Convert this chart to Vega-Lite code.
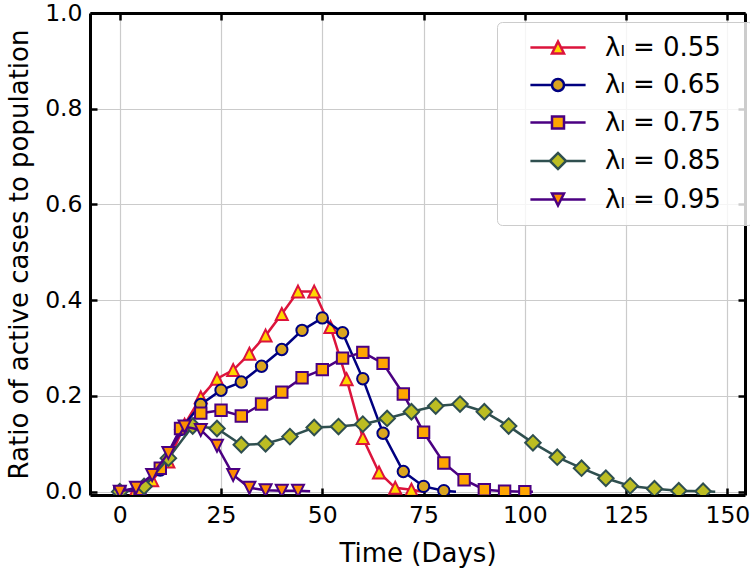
{
  "$schema": "https://vega.github.io/schema/vega-lite/v6.json",
  "width": 655,
  "height": 482,
  "autosize": {"type": "none"},
  "padding": {"left": 90, "top": 13, "right": 5, "bottom": 77},
  "background": "white",
  "config": {
    "view": {"stroke": null},
    "font": "DejaVu Sans",
    "axis": {
      "domainColor": "black",
      "domainWidth": 3,
      "tickColor": "black",
      "tickWidth": 2.5,
      "tickSize": -7,
      "labelFontSize": 23.5,
      "labelColor": "black",
      "labelPadding": 15,
      "titleFontSize": 26,
      "titleFontWeight": "normal",
      "titleColor": "black",
      "gridColor": "#cbcbcb",
      "gridWidth": 1.2
    },
    "legend": {
      "symbolOpacity": 1,
      "symbolStrokeWidth": 2.5,
      "symbolSize": 144,
      "labelFontSize": 26,
      "labelColor": "black",
      "labelFont": "DejaVu Sans"
    }
  },
  "data": {
    "values": [
      {"s": "0.55", "t": 0, "v": 0.0, "k": "marker"},
      {"s": "0.55", "t": 4, "v": 0.004, "k": "marker"},
      {"s": "0.55", "t": 8, "v": 0.024, "k": "marker"},
      {"s": "0.55", "t": 12, "v": 0.063, "k": "marker"},
      {"s": "0.55", "t": 16, "v": 0.14, "k": "marker"},
      {"s": "0.55", "t": 20, "v": 0.197, "k": "marker"},
      {"s": "0.55", "t": 24, "v": 0.236, "k": "marker"},
      {"s": "0.55", "t": 28, "v": 0.254, "k": "marker"},
      {"s": "0.55", "t": 32, "v": 0.288, "k": "marker"},
      {"s": "0.55", "t": 36, "v": 0.326, "k": "marker"},
      {"s": "0.55", "t": 40, "v": 0.371, "k": "marker"},
      {"s": "0.55", "t": 44, "v": 0.418, "k": "marker"},
      {"s": "0.55", "t": 48, "v": 0.418, "k": "marker"},
      {"s": "0.55", "t": 52, "v": 0.344, "k": "marker"},
      {"s": "0.55", "t": 56, "v": 0.235, "k": "marker"},
      {"s": "0.55", "t": 60, "v": 0.112, "k": "marker"},
      {"s": "0.55", "t": 64, "v": 0.04, "k": "marker"},
      {"s": "0.55", "t": 68, "v": 0.008, "k": "marker"},
      {"s": "0.55", "t": 72, "v": 0.004, "k": "marker"},
      {"s": "0.55", "t": 75, "v": 0.0, "k": "line"},
      {"s": "0.65", "t": 0, "v": 0.0, "k": "marker"},
      {"s": "0.65", "t": 5, "v": 0.005, "k": "marker"},
      {"s": "0.65", "t": 10, "v": 0.045, "k": "marker"},
      {"s": "0.65", "t": 15, "v": 0.13, "k": "marker"},
      {"s": "0.65", "t": 20, "v": 0.182, "k": "marker"},
      {"s": "0.65", "t": 25, "v": 0.212, "k": "marker"},
      {"s": "0.65", "t": 30, "v": 0.229, "k": "marker"},
      {"s": "0.65", "t": 35, "v": 0.262, "k": "marker"},
      {"s": "0.65", "t": 40, "v": 0.297, "k": "marker"},
      {"s": "0.65", "t": 45, "v": 0.337, "k": "marker"},
      {"s": "0.65", "t": 50, "v": 0.363, "k": "marker"},
      {"s": "0.65", "t": 55, "v": 0.332, "k": "marker"},
      {"s": "0.65", "t": 60, "v": 0.236, "k": "marker"},
      {"s": "0.65", "t": 65, "v": 0.122, "k": "marker"},
      {"s": "0.65", "t": 70, "v": 0.042, "k": "marker"},
      {"s": "0.65", "t": 75, "v": 0.011, "k": "marker"},
      {"s": "0.65", "t": 80, "v": 0.002, "k": "marker"},
      {"s": "0.65", "t": 83, "v": 0.0, "k": "line"},
      {"s": "0.75", "t": 0, "v": 0.0, "k": "marker"},
      {"s": "0.75", "t": 5, "v": 0.005, "k": "marker"},
      {"s": "0.75", "t": 10, "v": 0.049, "k": "marker"},
      {"s": "0.75", "t": 15, "v": 0.132, "k": "marker"},
      {"s": "0.75", "t": 20, "v": 0.164, "k": "marker"},
      {"s": "0.75", "t": 25, "v": 0.17, "k": "marker"},
      {"s": "0.75", "t": 30, "v": 0.158, "k": "marker"},
      {"s": "0.75", "t": 35, "v": 0.183, "k": "marker"},
      {"s": "0.75", "t": 40, "v": 0.208, "k": "marker"},
      {"s": "0.75", "t": 45, "v": 0.238, "k": "marker"},
      {"s": "0.75", "t": 50, "v": 0.255, "k": "marker"},
      {"s": "0.75", "t": 55, "v": 0.279, "k": "marker"},
      {"s": "0.75", "t": 60, "v": 0.291, "k": "marker"},
      {"s": "0.75", "t": 65, "v": 0.268, "k": "marker"},
      {"s": "0.75", "t": 70, "v": 0.204, "k": "marker"},
      {"s": "0.75", "t": 75, "v": 0.124, "k": "marker"},
      {"s": "0.75", "t": 80, "v": 0.06, "k": "marker"},
      {"s": "0.75", "t": 85, "v": 0.025, "k": "marker"},
      {"s": "0.75", "t": 90, "v": 0.004, "k": "marker"},
      {"s": "0.75", "t": 95, "v": 0.001, "k": "marker"},
      {"s": "0.75", "t": 100, "v": 0.0, "k": "marker"},
      {"s": "0.75", "t": 102, "v": 0.0, "k": "line"},
      {"s": "0.85", "t": 0, "v": 0.0, "k": "marker"},
      {"s": "0.85", "t": 6, "v": 0.011, "k": "marker"},
      {"s": "0.85", "t": 12, "v": 0.07, "k": "marker"},
      {"s": "0.85", "t": 18, "v": 0.137, "k": "marker"},
      {"s": "0.85", "t": 24, "v": 0.132, "k": "marker"},
      {"s": "0.85", "t": 30, "v": 0.098, "k": "marker"},
      {"s": "0.85", "t": 36, "v": 0.1, "k": "marker"},
      {"s": "0.85", "t": 42, "v": 0.115, "k": "marker"},
      {"s": "0.85", "t": 48, "v": 0.134, "k": "marker"},
      {"s": "0.85", "t": 54, "v": 0.136, "k": "marker"},
      {"s": "0.85", "t": 60, "v": 0.141, "k": "marker"},
      {"s": "0.85", "t": 66, "v": 0.153, "k": "marker"},
      {"s": "0.85", "t": 72, "v": 0.167, "k": "marker"},
      {"s": "0.85", "t": 78, "v": 0.179, "k": "marker"},
      {"s": "0.85", "t": 84, "v": 0.183, "k": "marker"},
      {"s": "0.85", "t": 90, "v": 0.167, "k": "marker"},
      {"s": "0.85", "t": 96, "v": 0.137, "k": "marker"},
      {"s": "0.85", "t": 102, "v": 0.102, "k": "marker"},
      {"s": "0.85", "t": 108, "v": 0.072, "k": "marker"},
      {"s": "0.85", "t": 114, "v": 0.049, "k": "marker"},
      {"s": "0.85", "t": 120, "v": 0.028, "k": "marker"},
      {"s": "0.85", "t": 126, "v": 0.012, "k": "marker"},
      {"s": "0.85", "t": 132, "v": 0.006, "k": "marker"},
      {"s": "0.85", "t": 138, "v": 0.002, "k": "marker"},
      {"s": "0.85", "t": 144, "v": 0.001, "k": "marker"},
      {"s": "0.85", "t": 147, "v": 0.0, "k": "line"},
      {"s": "0.95", "t": 0, "v": 0.0, "k": "marker"},
      {"s": "0.95", "t": 4, "v": 0.008, "k": "marker"},
      {"s": "0.95", "t": 8, "v": 0.035, "k": "marker"},
      {"s": "0.95", "t": 12, "v": 0.081, "k": "marker"},
      {"s": "0.95", "t": 16, "v": 0.136, "k": "marker"},
      {"s": "0.95", "t": 20, "v": 0.129, "k": "marker"},
      {"s": "0.95", "t": 24, "v": 0.096, "k": "marker"},
      {"s": "0.95", "t": 28, "v": 0.035, "k": "marker"},
      {"s": "0.95", "t": 32, "v": 0.008, "k": "marker"},
      {"s": "0.95", "t": 36, "v": 0.003, "k": "marker"},
      {"s": "0.95", "t": 40, "v": 0.002, "k": "marker"},
      {"s": "0.95", "t": 44, "v": 0.002, "k": "marker"},
      {"s": "0.95", "t": 47, "v": 0.001, "k": "line"}
    ]
  },
  "encoding": {
    "x": {
      "field": "t",
      "type": "quantitative",
      "scale": {"domain": [-7.35, 154.35], "nice": false, "zero": false},
      "axis": {"values": [0, 25, 50, 75, 100, 125, 150], "title": "Time (Days)", "grid": true, "titlePadding": 14}
    },
    "y": {
      "field": "v",
      "type": "quantitative",
      "scale": {"domain": [-0.007, 1.0], "nice": false, "zero": false},
      "axis": {"values": [0, 0.2, 0.4, 0.6, 0.8, 1.0], "format": ".1f", "title": "Ratio of active cases to population", "grid": true, "titlePadding": 12}
    }
  },
  "layer": [
    {
      "layer": [
        {"transform": [{"filter": "datum.s === '0.55'"}], "mark": {"type": "line", "color": "#DC143C", "strokeWidth": 2.5, "clip": true}},
        {"transform": [{"filter": "datum.s === '0.55' && datum.k === 'marker'"}], "mark": {"type": "point", "shape": "M0,-1L1,1L-1,1Z", "filled": true, "fill": "#FFD700", "stroke": "#DC143C", "strokeWidth": 2, "size": 144, "opacity": 1, "clip": true}},
        {"transform": [{"filter": "datum.s === '0.65'"}], "mark": {"type": "line", "color": "#000080", "strokeWidth": 2.5, "clip": true}},
        {"transform": [{"filter": "datum.s === '0.65' && datum.k === 'marker'"}], "mark": {"type": "point", "shape": "circle", "filled": true, "fill": "#DAA520", "stroke": "#000080", "strokeWidth": 2, "size": 130, "opacity": 1, "clip": true}},
        {"transform": [{"filter": "datum.s === '0.75'"}], "mark": {"type": "line", "color": "#4B0082", "strokeWidth": 2.5, "clip": true}},
        {"transform": [{"filter": "datum.s === '0.75' && datum.k === 'marker'"}], "mark": {"type": "point", "shape": "square", "filled": true, "fill": "#FFA500", "stroke": "#4B0082", "strokeWidth": 2, "size": 130, "opacity": 1, "clip": true}},
        {"transform": [{"filter": "datum.s === '0.85'"}], "mark": {"type": "line", "color": "#2F4F4F", "strokeWidth": 2.5, "clip": true}},
        {"transform": [{"filter": "datum.s === '0.85' && datum.k === 'marker'"}], "mark": {"type": "point", "shape": "diamond", "filled": true, "fill": "#BCBD22", "stroke": "#2F4F4F", "strokeWidth": 2, "size": 240, "opacity": 1, "clip": true}},
        {"transform": [{"filter": "datum.s === '0.95'"}], "mark": {"type": "line", "color": "#4B0082", "strokeWidth": 2.5, "clip": true}},
        {"transform": [{"filter": "datum.s === '0.95' && datum.k === 'marker'"}], "mark": {"type": "point", "shape": "M0,1L1,-1L-1,-1Z", "filled": true, "fill": "#FF8C00", "stroke": "#4B0082", "strokeWidth": 2, "size": 144, "opacity": 1, "clip": true}}
      ]
    },
    {
      "transform": [{"filter": "datum.k === 'marker'"}],
      "mark": {"type": "point", "filled": true, "opacity": 0, "strokeWidth": 2.5},
      "encoding": {
        "x": {"field": "t", "type": "quantitative", "axis": {"orient": "top", "labels": false, "title": null, "grid": false, "values": [0, 25, 50, 75, 100, 125, 150]}},
        "y": {"field": "v", "type": "quantitative", "axis": {"orient": "right", "labels": false, "title": null, "grid": false, "values": [0, 0.2, 0.4, 0.6, 0.8, 1.0]}},
        "fill": {
          "field": "s", "type": "nominal",
          "scale": {"domain": ["0.55", "0.65", "0.75", "0.85", "0.95"], "range": ["#FFD700", "#DAA520", "#FFA500", "#BCBD22", "#FF8C00"]},
          "legend": {"title": null}
        },
        "stroke": {
          "field": "s", "type": "nominal",
          "scale": {"domain": ["0.55", "0.65", "0.75", "0.85", "0.95"], "range": ["#DC143C", "#000080", "#4B0082", "#2F4F4F", "#4B0082"]},
          "legend": {"title": null}
        },
        "shape": {
          "field": "s", "type": "nominal",
          "scale": {
            "domain": ["0.55", "0.65", "0.75", "0.85", "0.95"],
            "range": [
              "M-4.6,0H-0.5M0.5,0H4.6M0,-1L1,1L-1,1Z",
              "M-4.6,0H-1M1,0H4.6M-1,0A1,1,0,1,0,1,0A1,1,0,1,0,-1,0Z",
              "M-4.6,0H-1M1,0H4.6M-1,-1H1V1H-1Z",
              "M-4.6,0H-1.35M1.35,0H4.6M-1.35,0L0,-1.35L1.35,0L0,1.35Z",
              "M-4.6,0H-0.5M0.5,0H4.6M0,1L1,-1L-1,-1Z"
            ]
          },
          "legend": {
            "title": null,
            "orient": "none",
            "legendX": 407,
            "legendY": 9,
            "padding": 12.5,
            "rowPadding": 11.5,
            "symbolOffset": 35.5,
            "labelOffset": 34,
            "fillColor": "rgba(255,255,255,0.8)",
            "strokeColor": "#cccccc",
            "cornerRadius": 5,
            "labelExpr": "'λₗ = ' + datum.label + '\u2800'"
          }
        }
      }
    }
  ],
  "resolve": {"axis": {"x": "independent", "y": "independent"}}
}
